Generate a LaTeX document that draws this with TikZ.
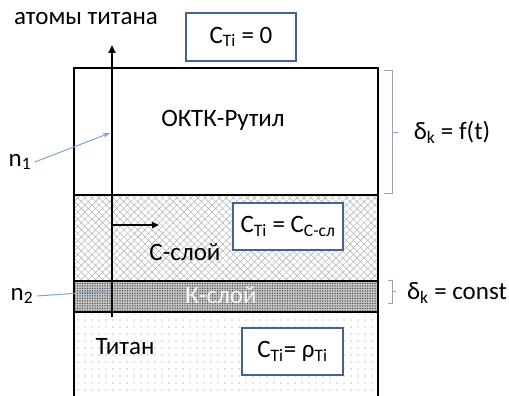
\documentclass[tikz,border=0pt]{standalone}
\usepackage{fontspec}
\setmainfont{Carlito}
\usetikzlibrary{patterns.meta,arrows.meta}
\definecolor{boxblue}{RGB}{65,100,148}
\definecolor{pointerblue}{RGB}{125,165,210}
\definecolor{bracegray}{RGB}{150,162,190}
\tikzset{
  cbox/.style={draw=boxblue, line width=2.4pt, fill=white, inner sep=0pt},
  pointer/.style={pointerblue, line width=1pt, -{Stealth[length=7pt,width=5pt]}},
  wall/.style={line width=2.5pt, black}
}
\begin{document}
\begin{tikzpicture}[x=1pt, y=-1pt, every node/.style={font=\fontsize{25}{28}\selectfont}]
\useasboundingbox (0,0) rectangle (509,396);
% layers
\fill[pattern={Lines[angle=45,distance=5pt,line width=0.45pt]}, pattern color=gray!65] (74,195) rectangle (378,281);
\fill[pattern={Lines[angle=-45,distance=5pt,line width=0.45pt]}, pattern color=gray!65] (74,195) rectangle (378,281);
\fill[gray!45] (74,281) rectangle (378,312);
\fill[pattern={Dots[distance=2.5pt,radius=0.75pt]}, pattern color=black!70] (74,281) rectangle (378,312);
\fill[pattern={Dots[distance=6.5pt,radius=0.7pt]}, pattern color=gray!90] (74,312) rectangle (378,396);
% walls
\draw[wall] (74,396) -- (74,68) -- (378,68) -- (378,396);
\draw[wall] (74,195) -- (378,195);
\draw[wall] (74,281) -- (378,281);
\draw[wall] (74,312) -- (378,312);
% flow of titanium atoms
\coordinate (flowfoot) at (112,317);
\coordinate (flowtop) at (112,45);
\coordinate (sidefoot) at (112,225);
\coordinate (sidetip) at (159,225);
\draw[line width=2pt, -{Triangle[length=8pt,width=7pt]}] (flowfoot) -- (flowtop);
\draw[line width=1.6pt, -{Triangle[length=7pt,width=6pt]}] (sidefoot) -- (sidetip);
% labels
\node (atoms) at (86,19) {атомы титана};
\node[cbox, minimum width=110pt, minimum height=48pt] (ctop) at (241,37) {C\textsubscript{Ti} = 0};
\node (rutile) at (223,120) {ОКТК-Рутил};
\node[cbox, minimum width=110pt, minimum height=47pt] (cmid) at (288,226.5) {C\textsubscript{Ti} = C\textsubscript{C-сл}};
\node (clayer) at (185,252) {С-слой};
\node[text=white!92!gray] (klayer) at (221,295) {К-слой};
\node (titan) at (125,347) {Титан};
\node[cbox, minimum width=101pt, minimum height=47pt] (cbot) at (292.5,351.5) {C\textsubscript{Ti}= ρ\textsubscript{Ti}};
% thickness
\draw[bracegray, line width=0.8pt] (384,70) -- (392,70) -- (392,193) -- (384,193);
\draw[bracegray, line width=0.8pt] (392,132) -- (398,132);
\draw[bracegray, line width=0.8pt] (388,280) -- (392,280) -- (392,303) -- (388,303);
\draw[bracegray, line width=0.8pt] (392,291.5) -- (396,291.5);
\node (growth) at (452,132) {δ\textsubscript{k} = f(t)};
\node (steady) at (457,293) {δ\textsubscript{k} = const};
% interfaces
\node (none) at (20,162) {n\textsubscript{1}};
\node (ntwo) at (22,296) {n\textsubscript{2}};
\coordinate (nonetip) at (110,133);
\coordinate (ntwotip) at (108,291);
\draw[pointer] (none.east) -- (nonetip);
\draw[pointer] (ntwo.east) -- (ntwotip);
\end{tikzpicture}
\end{document}
